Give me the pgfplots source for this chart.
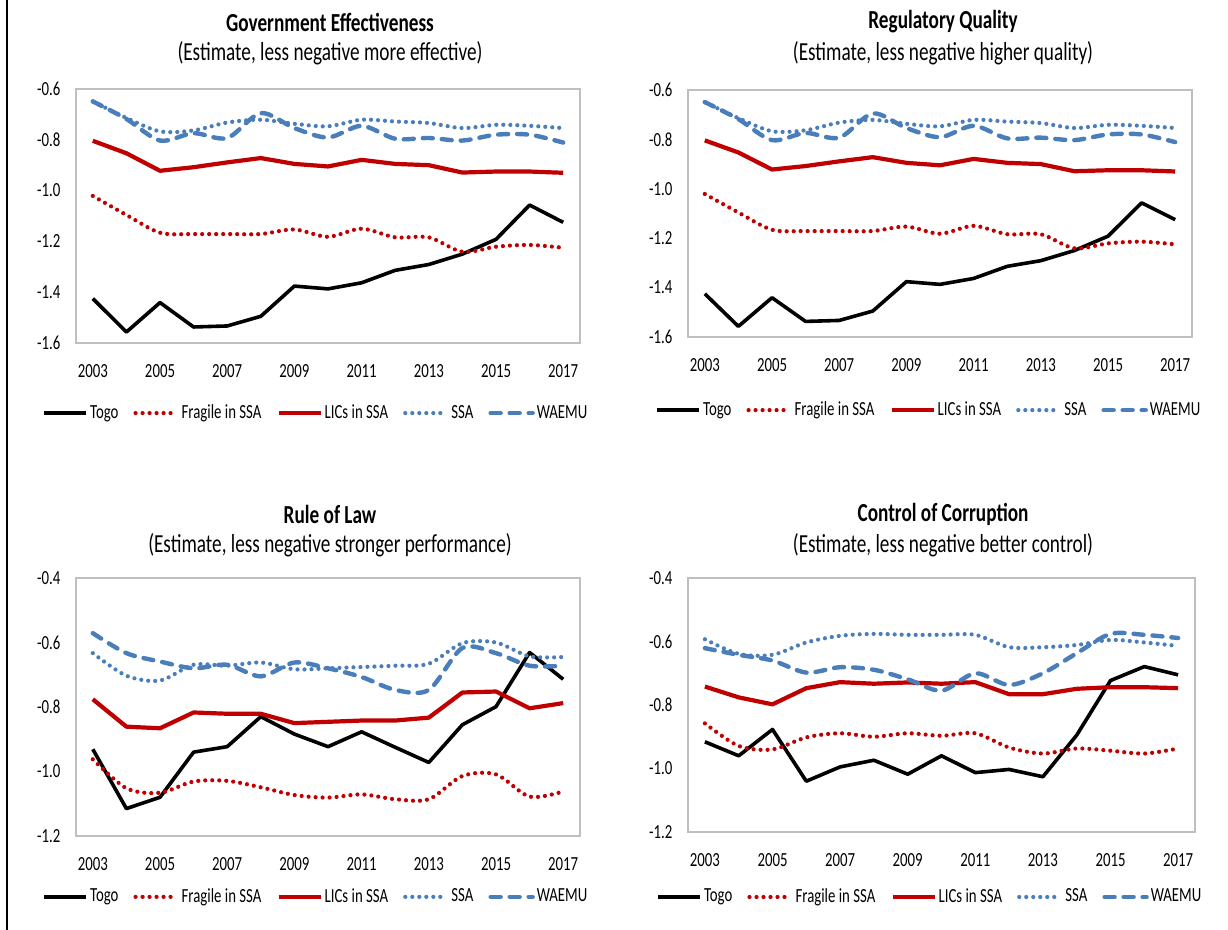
\documentclass[border=0pt]{standalone}
\usepackage{fontspec}
\setmainfont{Carlito}[FakeStretch=0.74]
\usepackage{pgfplots}
\pgfplotsset{compat=1.18}
\usepackage{pgfplotstable}

\definecolor{imfred}{RGB}{192,0,0}
\definecolor{imfblue}{RGB}{74,126,187}
\definecolor{framegray}{RGB}{191,191,191}

\newcommand\ticksize{\fontsize{10pt}{11pt}\selectfont}
\newcommand\titlesize{\fontsize{13pt}{15pt}\selectfont}
\newcommand\subsize{\fontsize{13pt}{15pt}\selectfont}

\pgfplotstableread{
year togo fragile lics ssa waemu
2003 -1.425 -1.021 -0.804 -0.649 -0.649
2004 -1.557 -1.096 -0.853 -0.714 -0.718
2005 -1.441 -1.166 -0.922 -0.767 -0.803
2006 -1.537 -1.171 -0.908 -0.763 -0.774
2007 -1.533 -1.171 -0.889 -0.732 -0.793
2008 -1.495 -1.171 -0.872 -0.721 -0.695
2009 -1.376 -1.153 -0.895 -0.737 -0.754
2010 -1.387 -1.182 -0.905 -0.747 -0.791
2011 -1.363 -1.150 -0.879 -0.721 -0.745
2012 -1.314 -1.184 -0.895 -0.728 -0.796
2013 -1.291 -1.184 -0.900 -0.734 -0.793
2014 -1.250 -1.241 -0.929 -0.754 -0.803
2015 -1.192 -1.221 -0.925 -0.741 -0.780
2016 -1.057 -1.214 -0.925 -0.745 -0.780
2017 -1.125 -1.225 -0.930 -0.754 -0.811
}\dataGE

\pgfplotstableread{
year togo fragile lics ssa waemu
2003 -1.425 -1.021 -0.804 -0.649 -0.649
2004 -1.557 -1.096 -0.853 -0.714 -0.718
2005 -1.441 -1.166 -0.922 -0.767 -0.803
2006 -1.537 -1.171 -0.908 -0.763 -0.774
2007 -1.533 -1.171 -0.889 -0.732 -0.793
2008 -1.495 -1.171 -0.872 -0.721 -0.695
2009 -1.376 -1.153 -0.895 -0.737 -0.754
2010 -1.387 -1.182 -0.905 -0.747 -0.791
2011 -1.363 -1.150 -0.879 -0.721 -0.745
2012 -1.314 -1.184 -0.895 -0.728 -0.796
2013 -1.291 -1.184 -0.900 -0.734 -0.793
2014 -1.250 -1.241 -0.929 -0.754 -0.803
2015 -1.192 -1.221 -0.925 -0.741 -0.780
2016 -1.057 -1.214 -0.925 -0.745 -0.780
2017 -1.125 -1.225 -0.930 -0.754 -0.811
}\dataRQ

\pgfplotstableread{
year togo fragile lics ssa waemu
2003 -0.931 -0.962 -0.776 -0.633 -0.571
2004 -1.115 -1.052 -0.861 -0.703 -0.633
2005 -1.080 -1.066 -0.866 -0.718 -0.659
2006 -0.940 -1.031 -0.817 -0.669 -0.680
2007 -0.923 -1.029 -0.821 -0.672 -0.669
2008 -0.830 -1.049 -0.821 -0.662 -0.705
2009 -0.884 -1.073 -0.850 -0.683 -0.662
2010 -0.923 -1.081 -0.846 -0.680 -0.680
2011 -0.877 -1.071 -0.842 -0.676 -0.707
2012 -0.925 -1.086 -0.842 -0.672 -0.747
2013 -0.972 -1.086 -0.833 -0.666 -0.747
2014 -0.855 -1.014 -0.755 -0.602 -0.617
2015 -0.799 -1.009 -0.752 -0.600 -0.633
2016 -0.631 -1.078 -0.804 -0.643 -0.672
2017 -0.714 -1.062 -0.788 -0.645 -0.672
}\dataRL

\pgfplotstableread{
year togo fragile lics ssa waemu
2003 -0.916 -0.858 -0.742 -0.593 -0.621
2004 -0.960 -0.929 -0.776 -0.639 -0.642
2005 -0.877 -0.940 -0.798 -0.642 -0.660
2006 -1.040 -0.902 -0.747 -0.603 -0.698
2007 -0.995 -0.889 -0.728 -0.582 -0.681
2008 -0.974 -0.900 -0.733 -0.576 -0.689
2009 -1.018 -0.889 -0.729 -0.579 -0.719
2010 -0.960 -0.897 -0.733 -0.579 -0.755
2011 -1.013 -0.889 -0.728 -0.579 -0.700
2012 -1.003 -0.934 -0.766 -0.618 -0.737
2013 -1.026 -0.953 -0.766 -0.618 -0.700
2014 -0.895 -0.937 -0.749 -0.611 -0.637
2015 -0.723 -0.944 -0.744 -0.595 -0.576
2016 -0.679 -0.953 -0.744 -0.603 -0.579
2017 -0.705 -0.937 -0.747 -0.614 -0.589
}\dataCC

\pgfplotsset{
  panel/.style={
    scale only axis,
    xmin=2002.5, xmax=2017.5,
    xtick={2003,2005,2007,2009,2011,2013,2015,2017},
    xticklabels={2003,2005,2007,2009,2011,2013,2015,2017},
    axis line style={framegray, line width=0.75pt},
    major tick length=0pt,
    tick style={draw=none},
    no markers,
    x tick label style={font=\ticksize, yshift=-7.25pt},
    y tick label style={font=\ticksize, xshift=-4.25pt,
      /pgf/number format/fixed, /pgf/number format/fixed zerofill,
      /pgf/number format/precision=1, /pgf/number format/assume math mode=true},
    legend columns=5,
    legend cell align=left,
    legend style={draw=none, fill=none, font=\ticksize, anchor=center,
      /tikz/every even column/.append style={column sep=6.5pt},
      nodes={inner xsep=1pt}},
    legend image code/.code={\draw[##1] (0pt,0pt) -- (21pt,0pt);},
  },
  togo/.style={black, line width=1.8pt, line join=round},
  fragile/.style={imfred, line width=2.1pt, dash pattern=on 0pt off 3.5pt, line cap=round, smooth},
  lics/.style={imfred, line width=2.1pt, line join=round},
  ssa/.style={imfblue, line width=2.1pt, dash pattern=on 0pt off 3.5pt, line cap=round, smooth},
  waemu/.style={imfblue, line width=2.2pt, dash pattern=on 5pt off 4.5pt, line cap=round, smooth},
}

\newcommand\allplots[1]{%
  \addplot[togo] table[x=year,y=togo] {#1};
  \addplot[fragile] table[x=year,y=fragile] {#1};
  \addplot[lics] table[x=year,y=lics] {#1};
  \addplot[ssa] table[x=year,y=ssa] {#1};
  \addplot[waemu] table[x=year,y=waemu] {#1};
  \legend{Togo, Fragile in SSA, LICs in SSA, SSA, WAEMU}
}

\begin{document}
\begin{tikzpicture}
\useasboundingbox (0,0) rectangle (614pt,465pt);
\draw[line width=1pt] (3.5pt,0) -- (3.5pt,465pt);

% Panel 1
\begin{axis}[panel, at={(38pt,293.5pt)}, anchor=south west,
  width=252pt, height=127pt,
  ymin=-1.6, ymax=-0.6, ytick={-1.6,-1.4,-1.2,-1.0,-0.8,-0.6},
  legend style={at={(0.476,-0.276)}}]
\allplots{\dataGE}
\end{axis}

% Panel 2
\begin{axis}[panel, at={(344pt,296.5pt)}, anchor=south west,
  width=252pt, height=123.5pt,
  ymin=-1.6, ymax=-0.6, ytick={-1.6,-1.4,-1.2,-1.0,-0.8,-0.6},
  legend style={at={(0.478,-0.296)}}]
\allplots{\dataRQ}
\end{axis}

% Panel 3
\begin{axis}[panel, at={(38pt,47pt)}, anchor=south west,
  width=252pt, height=129pt,
  ymin=-1.2, ymax=-0.4, ytick={-1.2,-1.0,-0.8,-0.6,-0.4},
  legend style={at={(0.476,-0.236)}}]
\allplots{\dataRL}
\end{axis}

% Panel 4
\begin{axis}[panel, at={(344pt,49pt)}, anchor=south west,
  width=253.5pt, height=127pt,
  ymin=-1.2, ymax=-0.4, ytick={-1.2,-1.0,-0.8,-0.6,-0.4},
  legend style={at={(0.477,-0.256)}}]
\allplots{\dataCC}
\end{axis}

% Titles
\node[font=\titlesize\bfseries] at (165pt,454pt) {Government Effectiveness};
\node[font=\subsize] at (165pt,438.5pt) {(Estimate, less negative more effective)};
\node[font=\titlesize\bfseries] at (471.5pt,454pt) {Regulatory Quality};
\node[font=\subsize] at (471.5pt,438.5pt) {(Estimate, less negative higher quality)};
\node[font=\titlesize\bfseries] at (165pt,208pt) {Rule of Law};
\node[font=\subsize] at (165pt,192.5pt) {(Estimate, less negative stronger performance)};
\node[font=\titlesize\bfseries] at (471.5pt,208pt) {Control of Corruption};
\node[font=\subsize] at (471.5pt,192.5pt) {(Estimate, less negative better control)};
\end{tikzpicture}
\end{document}
